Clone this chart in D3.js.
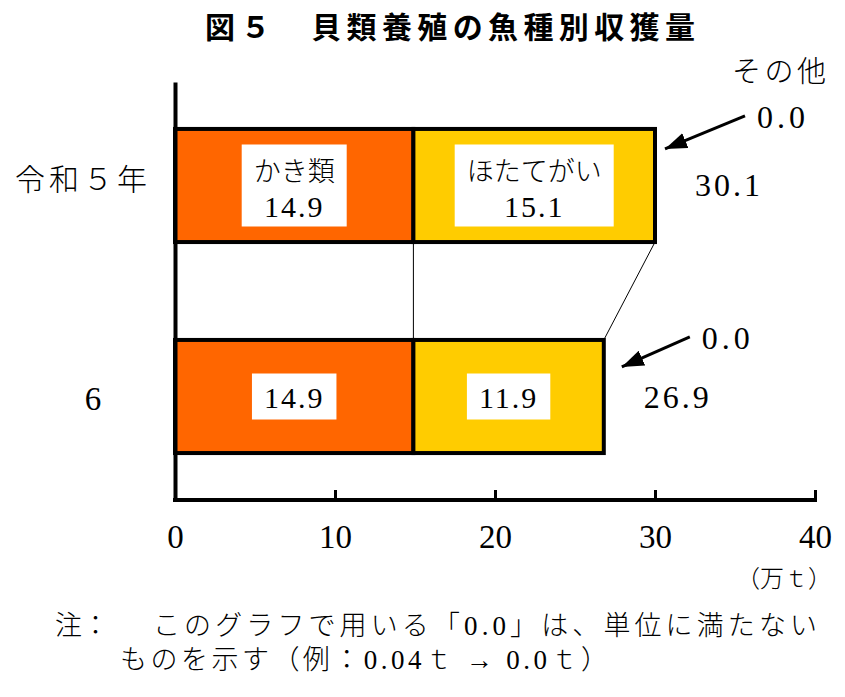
<!DOCTYPE html>
<html>
<head>
<meta charset="utf-8">
<script src="https://cdn.jsdelivr.net/npm/d3@7"></script>
<style>
  body { margin: 0; background: #fff; }
</style>
</head>
<body>
<svg id="chart" width="845" height="697"></svg>
<script>
// Data
const years = ['令和５年', '6']
const species = ['かき類', 'ほたてがい', 'その他']
const kaki = [14.9, 14.9]
const hotate = [15.1, 11.9]
const other = [0.0, 0.0]
const totals = [30.1, 26.9]
const xTicks = [0, 10, 20, 30, 40]

const serif = "'Liberation Serif','Noto Sans CJK JP',serif"
const gothic = "'Noto Sans CJK JP',sans-serif"
const colors = ['#FF6600', '#FFCC00', '#FFFFFF']

const svg = d3.select('#chart')

const x = d3.scaleLinear().domain([0, 40]).range([175, 815])
const y = d3.scaleBand()
  .domain(years)
  .range([82, 500])
  .paddingInner(0.464)
  .paddingOuter(0.2225)

const rows = years.map((yr, i) => ({ year: yr, kaki: kaki[i], hotate: hotate[i], other: other[i] }))
const series = d3.stack().keys(['kaki', 'hotate', 'other'])(rows)
const values = [kaki, hotate, other]

// Title
svg.append('text')
  .attr('x', 205)
  .attr('y', 38)
  .attr('textLength', 490)
  .attr('lengthAdjust', 'spacing')
  .style('font-family', gothic)
  .style('font-weight', 'bold')
  .style('font-size', '30px')
  .text('図５　貝類養殖の魚種別収獲量')

// Connector lines between bars
const barEnd = rows.map(d => d.kaki + d.hotate + d.other)
const b0 = y(years[0]) + y.bandwidth()
const t1 = y(years[1])
svg.append('line')
  .attr('x1', x(kaki[0])).attr('y1', b0)
  .attr('x2', x(kaki[1])).attr('y2', t1)
  .attr('stroke', '#000').attr('stroke-width', 1)
svg.append('line')
  .attr('x1', x(barEnd[0])).attr('y1', b0)
  .attr('x2', x(barEnd[1])).attr('y2', t1)
  .attr('stroke', '#000').attr('stroke-width', 1)

// Bars
svg.append('g')
  .selectAll('g')
  .data(series)
  .join('g')
  .attr('fill', (d, i) => colors[i])
  .selectAll('rect')
  .data(d => d.filter(v => v[1] - v[0] > 0))
  .join('rect')
  .attr('x', d => x(d[0]))
  .attr('y', d => y(d.data.year))
  .attr('width', d => x(d[1]) - x(d[0]))
  .attr('height', y.bandwidth())
  .attr('stroke', '#000')
  .attr('stroke-width', 4)

// Labels in white boxes
series.slice(0, 2).forEach((s, si) => {
  s.forEach((d, i) => {
    const cx = (x(d[0]) + x(d[1])) / 2
    const cy = y(d.data.year) + y.bandwidth() / 2
    const val = values[si][i].toFixed(1)
    const g = svg.append('g')
    const box = g.append('rect').attr('fill', '#fff')
    const lines = i === 0 ? [species[si], val] : [val]
    const base = i === 0 ? [cy - 4, cy + 32] : [cy + 11]
    let w = 0
    lines.forEach((t, k) => {
      const isNum = /\d/.test(t)
      const txt = g.append('text')
        .attr('x', cx)
        .attr('y', base[k])
        .attr('text-anchor', 'middle')
        .style('font-family', serif)
        .style('font-size', isNum ? '30px' : '27px')
        .style('font-weight', isNum ? 'normal' : '300')
        .style('letter-spacing', isNum ? '2px' : '0px')
        .text(t)
      w = Math.max(w, txt.node().getComputedTextLength())
    })
    const h = i === 0 ? 82 : 46
    const bw = w + 24
    box.attr('x', cx - bw / 2)
      .attr('y', cy - h / 2)
      .attr('width', bw)
      .attr('height', h)
  })
})

// Totals
totals.forEach((t, i) => {
  const cy = y(years[i]) + y.bandwidth() / 2
  svg.append('text')
    .attr('x', x(barEnd[i]) + 40)
    .attr('y', cy + 11)
    .style('font-family', serif)
    .style('font-size', '32px')
    .style('letter-spacing', '3px')
    .text(t.toFixed(1))
})

// Arrowhead marker
svg.append('defs').append('marker')
  .attr('id', 'arrow')
  .attr('viewBox', '0 0 22 16')
  .attr('refX', 22)
  .attr('refY', 8)
  .attr('markerWidth', 22)
  .attr('markerHeight', 16)
  .attr('markerUnits', 'userSpaceOnUse')
  .attr('orient', 'auto')
  .append('path')
  .attr('d', 'M0,0L22,8L0,16Z')
  .attr('fill', '#000')

// "その他" annotations
const arrowOff = [{ tip: [10, 20], tail: [90, -13] }, { tip: [18, 27], tail: [86, -3] }]
other.forEach((v, i) => {
  const ex = x(barEnd[i])
  const top = y(years[i])
  const a = arrowOff[i]
  svg.append('line')
    .attr('x1', ex + a.tail[0]).attr('y1', top + a.tail[1])
    .attr('x2', ex + a.tip[0]).attr('y2', top + a.tip[1])
    .attr('stroke', '#000')
    .attr('stroke-width', 3)
    .attr('marker-end', 'url(#arrow)')
  svg.append('text')
    .attr('x', ex + a.tail[0] + 12)
    .attr('y', top + a.tail[1] + 12)
    .style('font-family', serif)
    .style('font-size', '32px')
    .style('letter-spacing', '4px')
    .text(v.toFixed(1))
})
svg.append('text')
  .attr('x', 732)
  .attr('y', 82)
  .attr('textLength', 94)
  .attr('lengthAdjust', 'spacing')
  .style('font-family', serif)
  .style('font-size', '29px')
  .style('font-weight', '300')
  .text(species[2])

// X axis
const xAxis = svg.append('g')
  .attr('transform', 'translate(0,500)')
  .call(d3.axisBottom(x).tickValues(xTicks).tickSize(-10).tickSizeOuter(0).tickPadding(25))
xAxis.select('.domain').attr('stroke-width', 4).attr('d', `M${x(0) - 2},0H${x(40) + 2}`)
xAxis.selectAll('.tick line').attr('stroke-width', 3)
xAxis.selectAll('.tick text')
  .style('font-family', serif)
  .style('font-size', '33px')
  .attr('fill', '#000')

// Y axis
const yAxis = svg.append('g')
  .attr('transform', `translate(${x(0)},0)`)
  .call(d3.axisLeft(y).tickSize(0).tickSizeOuter(0).tickPadding(24))
yAxis.select('.domain').attr('stroke-width', 4)
yAxis.selectAll('.tick text')
  .style('font-family', serif)
  .style('font-size', '30px')
  .style('font-weight', '300')
  .style('letter-spacing', '4px')
  .attr('fill', '#000')
  .attr('dy', '0.15em')
  .filter(d => d === '6')
  .style('font-size', '33px')
  .attr('text-anchor', 'middle')
  .attr('x', -80)
  .attr('dy', '0.4em')

// Unit
svg.append('text')
  .attr('x', 832)
  .attr('y', 587)
  .attr('text-anchor', 'end')
  .style('font-family', serif)
  .style('font-size', '24px')
  .style('font-weight', '300')
  .text('（万ｔ）')

// Note
const note = svg.append('g')
  .style('font-family', serif)
  .style('font-size', '27px')
  .style('font-weight', '300')
note.append('text')
  .attr('x', 55)
  .attr('y', 635)
  .text('注：')
note.append('text')
  .attr('x', 153)
  .attr('y', 635)
  .attr('textLength', 664)
  .attr('lengthAdjust', 'spacing')
  .text('このグラフで用いる「0.0」は、単位に満たない')
note.append('text')
  .attr('x', 120)
  .attr('y', 669)
  .attr('textLength', 488)
  .attr('lengthAdjust', 'spacing')
  .text('ものを示す（例：0.04ｔ → 0.0ｔ）')
</script>
</body>
</html>
